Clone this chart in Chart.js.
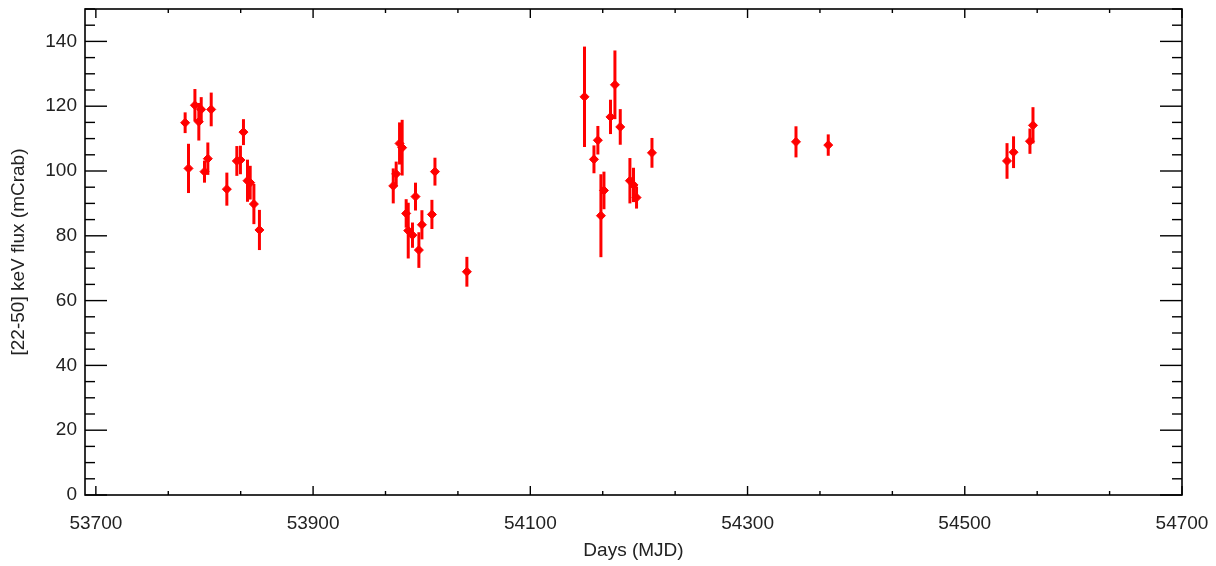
<!DOCTYPE html>
<html>
<head>
<meta charset="utf-8">
<script src="https://cdn.jsdelivr.net/npm/chart.js@4/dist/chart.umd.min.js"></script>
<style>
  body { margin: 0; background: #fff; }
</style>
</head>
<body>
<canvas id="lc" width="1216" height="566"></canvas>
<script>
// light curve values
const mjd = [53782.2, 53785.3, 53791.2, 53794.8, 53797.0, 53800.0, 53803.1, 53806.2, 53820.6, 53829.8,
  53833.1, 53835.9, 53839.6, 53842.1, 53845.5, 53850.6, 53973.8, 53976.5, 53979.6, 53982.0,
  53985.7, 53987.6, 53991.5, 53994.3, 53997.4, 54000.2, 54009.4, 54012.2, 54041.6, 54149.9,
  54158.6, 54162.2, 54165.0, 54167.8, 54173.8, 54177.9, 54182.8, 54191.7, 54195.0, 54197.8,
  54212.0, 54344.6, 54374.3, 54538.9, 54544.9, 54560.0, 54562.8];
const flux = [114.9, 100.8, 120.3, 115.2, 119.0, 99.8, 103.8, 119.0, 94.4, 103.1,
  103.4, 112.0, 97.0, 96.4, 89.8, 81.8, 95.4, 99.1, 108.5, 107.2,
  86.9, 81.6, 80.2, 92.1, 75.6, 83.4, 86.6, 99.8, 68.9, 122.9,
  103.6, 109.5, 86.2, 94.0, 116.7, 126.6, 113.6, 97.0, 95.7, 91.8,
  105.6, 109.0, 108.0, 103.1, 105.8, 109.2, 114.1];
const fluxErr = [3.2, 7.6, 5.0, 5.8, 3.8, 3.4, 5.0, 5.2, 5.1, 4.6,
  4.4, 4.0, 6.5, 5.2, 6.2, 6.2, 5.4, 3.8, 6.5, 8.6,
  4.4, 8.6, 3.9, 4.3, 5.5, 4.5, 4.5, 4.3, 4.6, 15.5,
  4.3, 4.4, 12.8, 5.8, 5.3, 10.6, 5.5, 7.0, 5.3, 3.4,
  4.6, 4.8, 3.3, 5.5, 4.9, 3.9, 5.6];

const xTicks = [53700, 53900, 54100, 54300, 54500, 54700];
const yTicks = [0, 20, 40, 60, 80, 100, 120, 140];

const textColor = '#222';
const fontFam = '"Liberation Sans", Arial, sans-serif';

// vertical error bars, drawn through the scales
const errorBars = {
  id: 'errorBars',
  beforeDatasetsDraw(chart) {
    const { ctx, scales: { x, y } } = chart;
    ctx.save();
    ctx.strokeStyle = '#ff0000';
    ctx.lineWidth = 3;
    mjd.forEach((t, i) => {
      const px = x.getPixelForValue(t);
      ctx.beginPath();
      ctx.moveTo(px, y.getPixelForValue(flux[i] - fluxErr[i]));
      ctx.lineTo(px, y.getPixelForValue(flux[i] + fluxErr[i]));
      ctx.stroke();
    });
    ctx.restore();
  }
};

// IDL style box with inward ticks
const frame = {
  id: 'frame',
  afterDraw(chart) {
    const { ctx, chartArea: a, scales: { x, y } } = chart;
    ctx.save();
    ctx.strokeStyle = '#000';
    ctx.lineWidth = 1.6;
    ctx.strokeRect(a.left, a.top, a.right - a.left, a.bottom - a.top);
    const seg = (x1, y1, x2, y2) => {
      ctx.beginPath();
      ctx.moveTo(x1, y1);
      ctx.lineTo(x2, y2);
      ctx.stroke();
    };
    ctx.lineWidth = 1.4;
    // x ticks: 3 minor intervals between majors
    for (let k = 0; k < xTicks.length; k++) {
      const px = x.getPixelForValue(xTicks[k]);
      seg(px, a.bottom, px, a.bottom - 9);
      seg(px, a.top, px, a.top + 9);
      if (k < xTicks.length - 1) {
        const step = (xTicks[k + 1] - xTicks[k]) / 3;
        for (let j = 1; j < 3; j++) {
          const mx = x.getPixelForValue(xTicks[k] + j * step);
          seg(mx, a.bottom, mx, a.bottom - 4);
          seg(mx, a.top, mx, a.top + 4);
        }
      }
    }
    // y ticks: majors every 20, minors every 5
    for (let v = 0; v <= 150; v += 5) {
      const py = y.getPixelForValue(v);
      const len = v % 20 === 0 ? 22 : 10;
      seg(a.left, py, a.left + len, py);
      seg(a.right, py, a.right - len, py);
    }
    ctx.restore();
  }
};

// drop the label-overflow padding so the layout padding decides the box
const noEdgePad = s => {
  s.paddingTop = 0;
  s.paddingBottom = 0;
  s.paddingLeft = 0;
  s.paddingRight = 0;
};

new Chart(document.getElementById('lc'), {
  type: 'scatter',
  data: {
    datasets: [{
      label: 'flux',
      data: mjd.map((t, i) => ({ x: t, y: flux[i] })),
      backgroundColor: '#ff0000',
      borderColor: '#ff0000',
      pointStyle: 'rectRot',
      pointRadius: 4.5,
      borderWidth: 1
    }]
  },
  options: {
    responsive: false,
    animation: false,
    layout: { padding: { left: 0, right: 34, top: 9, bottom: 0 } },
    plugins: {
      legend: { display: false },
      tooltip: { enabled: false }
    },
    scales: {
      x: {
        type: 'linear',
        min: 53690,
        max: 54700,
        afterBuildTicks: s => { s.ticks = xTicks.map(v => ({ value: v })); },
        afterFit: s => { s.height = 71; noEdgePad(s); },
        grid: { display: false, drawTicks: false },
        border: { display: false },
        ticks: {
          color: textColor,
          font: { family: fontFam, size: 19 },
          padding: 17,
          maxRotation: 0,
          autoSkip: false,
          callback: v => String(v)
        },
        title: {
          display: true,
          text: 'Days (MJD)',
          color: textColor,
          font: { family: fontFam, size: 19 },
          padding: { top: 4, bottom: 4 }
        }
      },
      y: {
        type: 'linear',
        min: 0,
        max: 150,
        afterBuildTicks: s => { s.ticks = yTicks.map(v => ({ value: v })); },
        afterFit: s => { s.width = 85; noEdgePad(s); },
        grid: { display: false, drawTicks: false },
        border: { display: false },
        ticks: {
          color: textColor,
          font: { family: fontFam, size: 19 },
          padding: 8,
          autoSkip: false,
          callback: v => String(v)
        },
        title: {
          display: true,
          text: '[22-50] keV flux (mCrab)',
          color: textColor,
          font: { family: fontFam, size: 19 },
          padding: { top: 7, bottom: 4 }
        }
      }
    }
  },
  plugins: [errorBars, frame]
});
</script>
</body>
</html>
